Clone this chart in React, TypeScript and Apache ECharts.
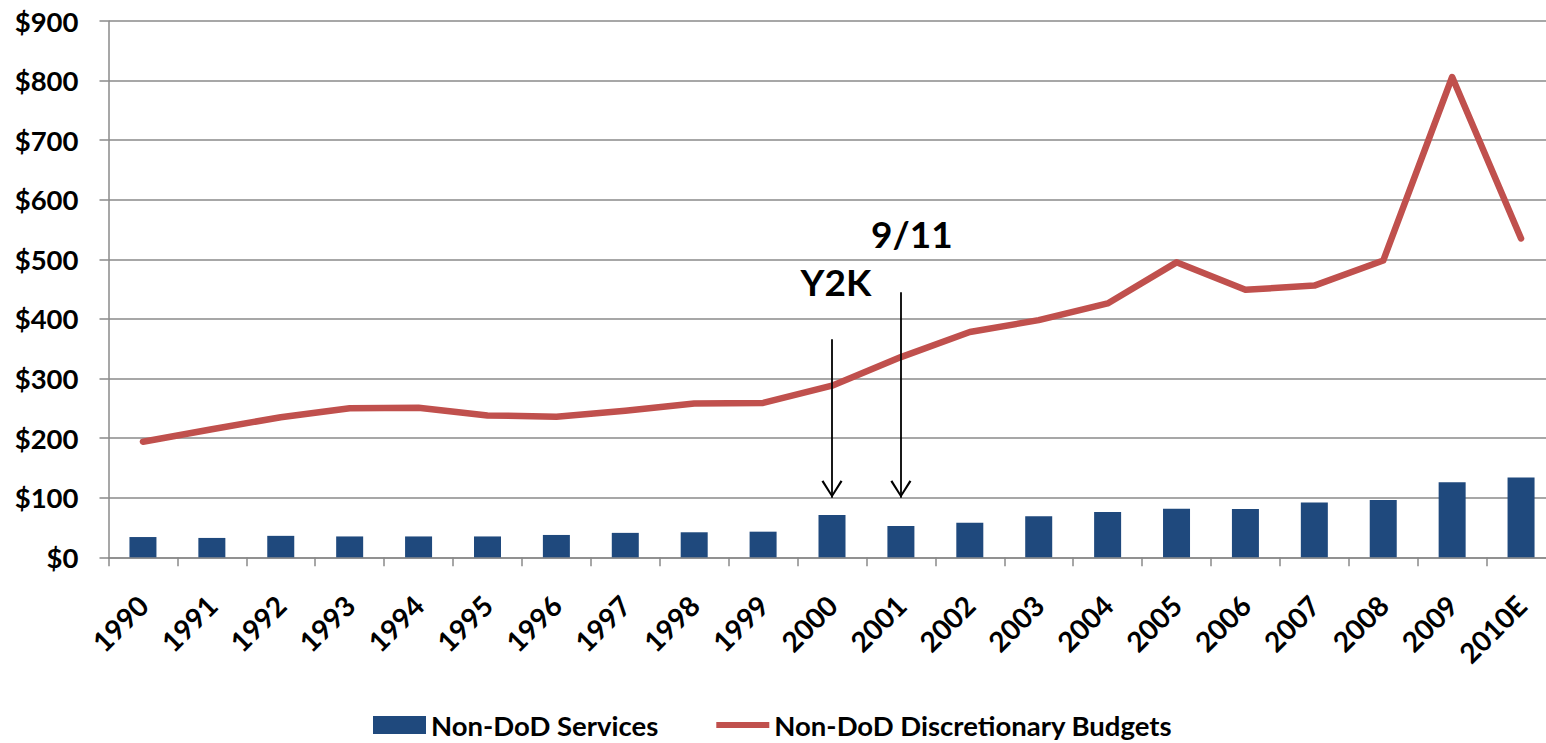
import React, { useEffect, useRef } from "react";
import * as echarts from "echarts";

const categories = ["1990","1991","1992","1993","1994","1995","1996","1997","1998","1999","2000","2001","2002","2003","2004","2005","2006","2007","2008","2009","2010E"];
const servicesValues = [34, 32.5, 36, 35, 35, 35, 37.5, 41, 42, 43, 71, 52.5, 58, 69, 76, 81.5, 81, 92, 96, 126, 134];
const budgetValues = [194, 215, 235, 250, 251, 238, 236, 246, 258, 259, 288, 336, 378, 398, 426, 495, 449, 456, 498, 806, 535];
const yTicks = { min: 0, max: 900, interval: 100 };
const annotations = [
  { label: "Y2K", category: "2000", textValue: 463, from: 366, to: 100, dx: 4 },
  { label: "9/11", category: "2001", textValue: 543, from: 445, to: 100, dx: 11 },
];

const FONT = "Lato, 'Open Sans', sans-serif";
const GRID_COLOR = "#8a8a8a";
const ARROW = "path://M5,1.5L5,1.6M5,10L0,18L0.9,18.6L5,11.8L9.1,18.6L10,18Z";
const LINE_ICON = "path://M0,0H57V6.5H0Z";

export default function App() {
  const ref = useRef<HTMLDivElement>(null);
  useEffect(() => {
    if (!ref.current) return;
    const chart = echarts.init(ref.current, null, { renderer: "svg" });
    chart.setOption({
      animation: false,
      backgroundColor: "#ffffff",
      grid: {
        left: 108.5,
        top: 21,
        width: 1447,
        height: 536.3,
        containLabel: false,
        outerBoundsMode: "none",
      },
      legend: {
        left: 368,
        top: 706,
        itemGap: 58,
        itemWidth: 53,
        itemHeight: 18,
        symbolKeepAspect: true,
        textStyle: { fontFamily: FONT, fontWeight: "bold", fontSize: 27.5, color: "#000" },
        data: [
          { name: "Non-DoD Services", icon: "rect" },
          { name: "Non-DoD Discretionary Budgets", icon: LINE_ICON, itemStyle: { color: "#C0504D" } },
        ],
      },
      xAxis: {
        type: "category",
        data: categories,
        boundaryGap: true,
        axisLine: { lineStyle: { color: GRID_COLOR, width: 1.5 } },
        axisTick: { show: true, length: 9, alignWithLabel: false, lineStyle: { color: GRID_COLOR, width: 1.5 } },
        axisLabel: {
          rotate: 45,
          margin: 43,
          interval: 0,
          fontFamily: FONT,
          fontWeight: "bold",
          fontSize: 28,
          color: "#000",
        },
        splitLine: { show: false },
      },
      yAxis: {
        type: "value",
        min: yTicks.min,
        max: yTicks.max,
        interval: yTicks.interval,
        axisLine: { show: true, lineStyle: { color: GRID_COLOR, width: 1.5 } },
        axisTick: { show: true, length: 9, lineStyle: { color: GRID_COLOR, width: 1.5 } },
        axisLabel: {
          margin: 30,
          formatter: (v: number) => "$" + v,
          fontFamily: FONT,
          fontWeight: "bold",
          fontSize: 27.5,
          color: "#000",
        },
        splitLine: { show: true, lineStyle: { color: GRID_COLOR, width: 1.5 } },
      },
      series: [
        {
          name: "Non-DoD Services",
          type: "bar",
          data: servicesValues,
          barWidth: 27,
          itemStyle: { color: "#1F497D" },
          silent: true,
          markLine: {
            silent: true,
            symbol: ["none", ARROW],
            symbolSize: [21, 35],
            label: { show: false },
            lineStyle: { color: "#000", width: 1.8, type: "solid" },
            emphasis: { disabled: true },
            data: annotations.map((a) => [
              { coord: [a.category, a.from] },
              { coord: [a.category, a.to] },
            ]),
          },
          markPoint: {
            silent: true,
            symbol: "circle",
            symbolSize: 1,
            itemStyle: { color: "rgba(0,0,0,0)" },
            label: {
              show: true,
              position: "inside",
              fontFamily: FONT,
              fontWeight: "bold",
              fontSize: 37,
              color: "#000",
            },
            data: annotations.map((a) => ({
              coord: [a.category, a.textValue],
              label: { formatter: a.label, offset: [a.dx, 0] },
            })),
          },
        },
        {
          name: "Non-DoD Discretionary Budgets",
          type: "line",
          data: budgetValues,
          symbol: "none",
          showSymbol: false,
          silent: true,
          lineStyle: { color: "#C0504D", width: 6.5, cap: "round", join: "round" },
          itemStyle: { color: "#C0504D" },
          z: 3,
        },
      ],
    });
    return () => chart.dispose();
  }, []);
  return (
    <div
      ref={ref}
      style={{ position: "fixed", left: 0, top: 0, width: 1546, height: 743, background: "#fff" }}
    />
  );
}
